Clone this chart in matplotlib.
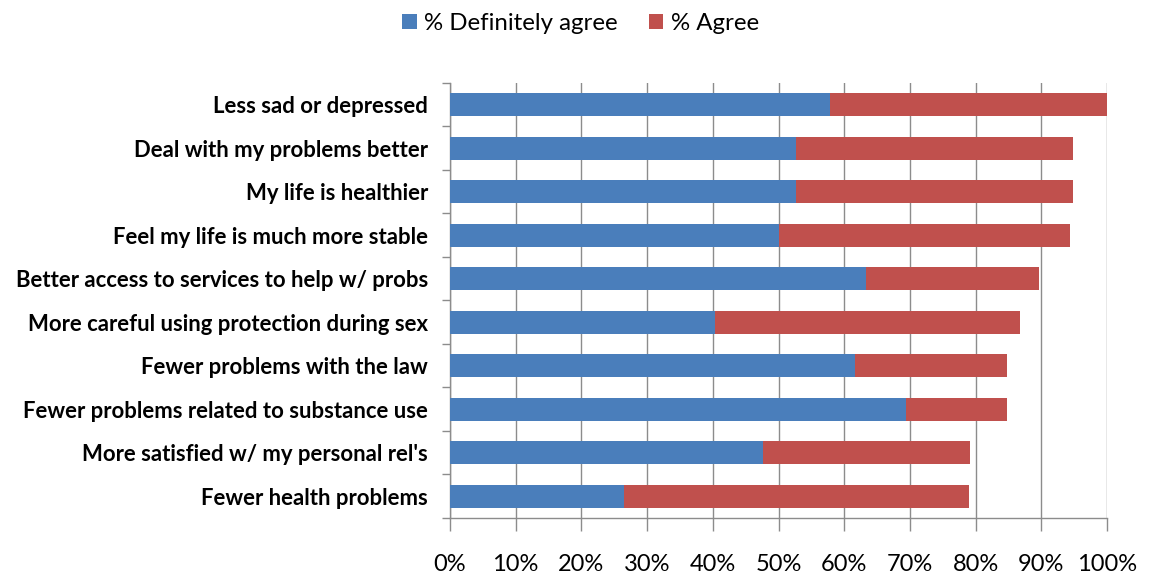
import matplotlib.pyplot as plt
import numpy as np

# survey items, top to bottom
categories = [
    "Less sad or depressed",
    "Deal with my problems better",
    "My life is healthier",
    "Feel my life is much more stable",
    "Better access to services to help w/ probs",
    "More careful using protection during sex",
    "Fewer problems with the law",
    "Fewer problems related to substance use",
    "More satisfied w/ my personal rel's",
    "Fewer health problems",
]

definitely_agree = [57.9, 52.6, 52.6, 50.1, 63.3, 40.3, 61.6, 69.4, 47.6, 26.5]
agree = [42.1, 42.3, 42.3, 44.3, 26.4, 46.5, 23.2, 15.4, 31.6, 52.5]

x_ticks = [0, 10, 20, 30, 40, 50, 60, 70, 80, 90, 100]
x_labels = [f"{v}%" for v in x_ticks]

BLUE = "#4A7EBB"
RED = "#C0504D"
GRID = "#8C8C8C"

plt.rcParams["font.family"] = ["Lato", "DejaVu Sans"]

fig = plt.figure(figsize=(11.52, 5.78), dpi=100)
ax = fig.add_axes([450 / 1152, 1 - 518 / 578, 657 / 1152, 435 / 578])

y = np.arange(len(categories))
bar_h = 0.52
ax.barh(y, definitely_agree, height=bar_h, color=BLUE, label="% Definitely agree", zorder=3)
ax.barh(y, agree, left=definitely_agree, height=bar_h, color=RED, label="% Agree", zorder=3)

ax.set_xlim(0, 100)
ax.set_ylim(len(categories) - 0.5, -0.5)

ax.set_xticks(x_ticks)
ax.set_xticklabels(x_labels, fontsize=17)
ax.tick_params(axis="x", direction="out", length=9, width=1, color=GRID, pad=17)
ax.xaxis.grid(True, color=GRID, linewidth=1, zorder=0)

ax.set_yticks(y)
ax.set_yticklabels(categories, fontsize=15.9, fontweight="bold")
ax.set_yticks(np.arange(len(categories) + 1) - 0.5, minor=True)
ax.tick_params(axis="y", which="major", length=0, pad=16)
ax.tick_params(axis="y", which="minor", direction="out", length=6, width=1, color=GRID)

for side in ["top", "right"]:
    ax.spines[side].set_visible(False)
for side in ["left", "bottom"]:
    ax.spines[side].set_color(GRID)
    ax.spines[side].set_linewidth(1)

fig.legend(
    loc="center", bbox_to_anchor=(0.504, 0.959), ncol=2, frameon=False,
    fontsize=17.3, handlelength=0.6, handleheight=0.6, handletextpad=0.3,
    columnspacing=1.3,
)

fig.savefig("out.png", dpi=100)
